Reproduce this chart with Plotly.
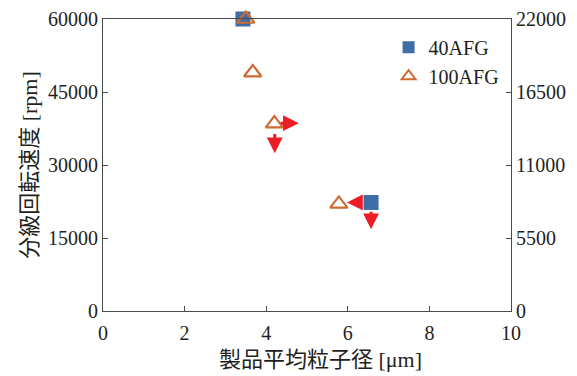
import plotly.graph_objects as go

# data
x_40 = [3.43, 6.57]
y_40 = [60000, 22300]
x_100 = [3.5, 3.67, 4.2, 5.78]
y_100 = [60000, 49000, 38500, 22000]
# arrows: tail -> tip
arrow_tail_x = [4.32, 4.21, 6.39, 6.57]
arrow_tail_y = [38600, 36700, 22300, 20700]
arrow_tip_x = [4.8, 4.21, 5.98, 6.57]
arrow_tip_y = [38600, 32400, 22300, 16800]
xticks = [0, 2, 4, 6, 8, 10]
yticks = [0, 15000, 30000, 45000, 60000]
y2ticks = [0, 5500, 11000, 16500, 22000]
x_title = "製品平均粒子径 [μm]"
y_title = "分級回転速度 [rpm]"

FONT = "Liberation Serif, Times New Roman, Noto Sans CJK JP, serif"
LC = "#4a4a4a"

fig = go.Figure()
fig.add_trace(go.Scatter(x=x_40, y=y_40, mode="markers", name="40AFG",
                         marker=dict(symbol="square", size=15, color="#3F6EA6"),
                         cliponaxis=False))
fig.add_trace(go.Scatter(x=x_100, y=y_100, mode="markers", name="100AFG",
                         marker=dict(symbol="triangle-up-open", size=15, color="#CF6A33",
                                     line=dict(width=2.2, color="#CF6A33")),
                         cliponaxis=False))
fig.add_trace(go.Scatter(x=[None], y=[None], yaxis="y2", showlegend=False, hoverinfo="skip"))

for tx, ty, hx, hy in zip(arrow_tail_x, arrow_tail_y, arrow_tip_x, arrow_tip_y):
    fig.add_annotation(x=hx, y=hy, ax=tx, ay=ty, xref="x", yref="y", axref="x", ayref="y",
                       showarrow=True, arrowhead=2, arrowwidth=3, arrowsize=1.05,
                       arrowcolor="#EE1C25", text="")

# x-axis title (slightly right of centre, as in the reference)
fig.add_annotation(text=x_title, xref="paper", yref="paper", x=0.534, y=0,
                   xanchor="center", yanchor="middle", yshift=-48, showarrow=False,
                   font=dict(family=FONT, size=22, color="#231F20"))

axis_common = dict(showline=True, linecolor=LC, linewidth=1.2, ticks="inside", ticklen=5,
                   tickcolor=LC, showgrid=False, zeroline=False, automargin=False,
                   tickfont=dict(family=FONT, size=20, color="#231F20"))

fig.update_layout(
    width=569, height=368,
    margin=dict(l=95, r=66, t=11, b=65),
    paper_bgcolor="white", plot_bgcolor="white",
    font=dict(family=FONT, color="#231F20"),
    xaxis=dict(range=[0, 10], tickvals=xticks, mirror=True, ticklabelstandoff=4,
               **axis_common),
    yaxis=dict(range=[0, 60000], tickvals=yticks, tickformat="d",
               title=dict(text=y_title, font=dict(family=FONT, size=22), standoff=4),
               **axis_common),
    yaxis2=dict(range=[0, 22000], tickvals=y2ticks, tickformat="d", overlaying="y", side="right",
                **axis_common),
    legend=dict(x=0.70, y=0.97, xanchor="left", yanchor="top", bgcolor="rgba(0,0,0,0)",
                font=dict(family=FONT, size=20), itemsizing="constant", tracegroupgap=0),
    showlegend=True,
)

fig.write_html("out.html")
